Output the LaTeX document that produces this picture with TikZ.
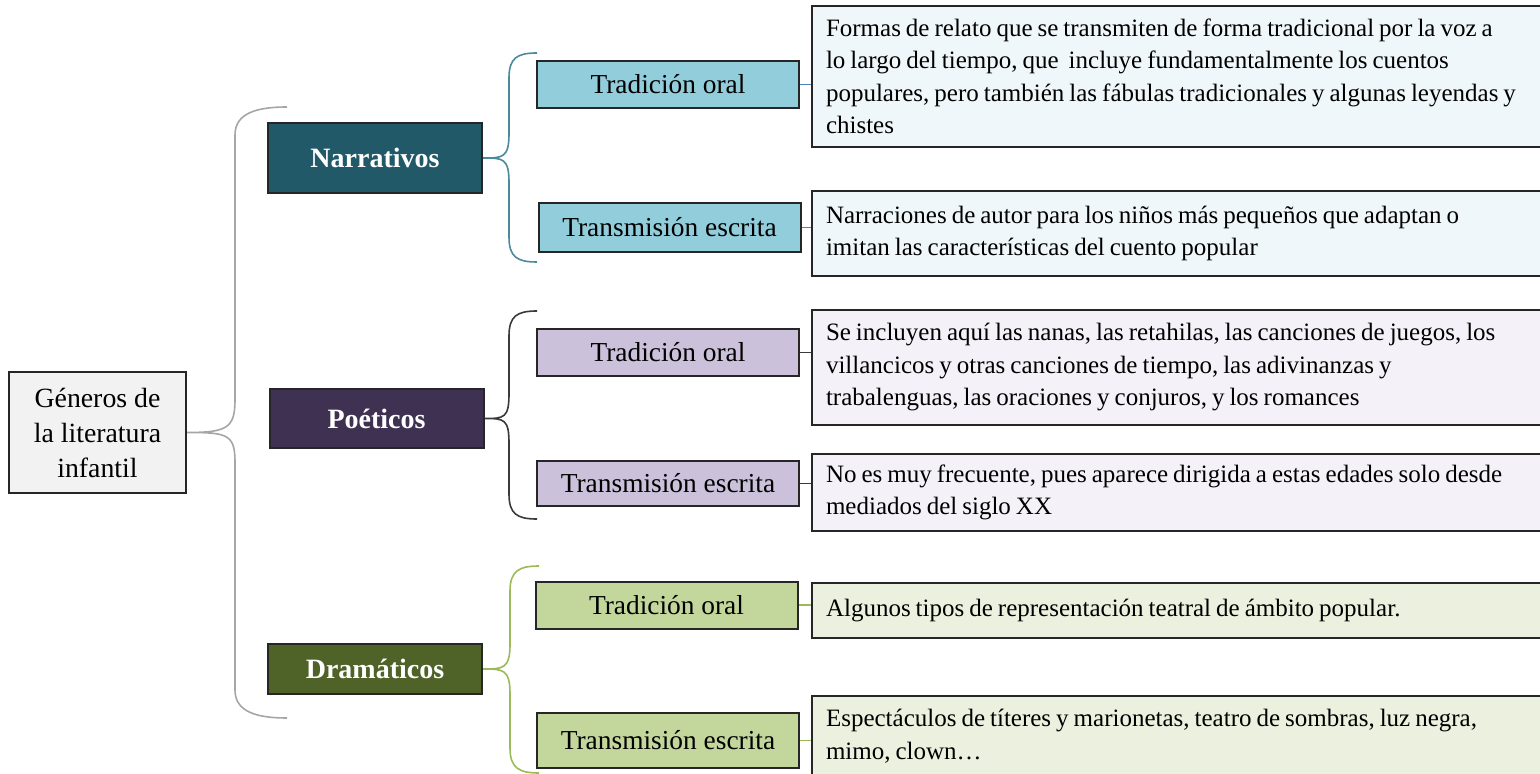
\documentclass[tikz,border=0pt]{standalone}
\usepackage{fontspec}
\setmainfont{Liberation Serif}

\definecolor{boxline}{HTML}{262626}
\definecolor{rootfill}{HTML}{F2F2F2}
\definecolor{mainline}{HTML}{A6A6A6}
\definecolor{narrdark}{HTML}{215968}
\definecolor{narrmid}{HTML}{92CDDC}
\definecolor{narrlight}{HTML}{F0F7FA}
\definecolor{narrline}{HTML}{4A8A9B}
\definecolor{narrlink}{HTML}{4F81BD}
\definecolor{poedark}{HTML}{3F3151}
\definecolor{poemid}{HTML}{CCC1DA}
\definecolor{poelight}{HTML}{F4F1F8}
\definecolor{poeline}{HTML}{3A3A3A}
\definecolor{dradark}{HTML}{4F6228}
\definecolor{dramid}{HTML}{C3D69B}
\definecolor{dralight}{HTML}{EBF1DE}
\definecolor{draline}{HTML}{9BBB59}

\tikzset{
	rootbox/.style = {draw=boxline, line width=1pt, fill=rootfill, align=center, minimum width=88.5pt, minimum height=60.5pt, font=\fontsize{13.9}{17.5}\selectfont},
	catbox/.style = {draw=boxline, line width=1pt, text=white, minimum width=107pt, font=\fontsize{14}{16}\selectfont\bfseries},
	subbox/.style = {draw=boxline, line width=1pt, minimum width=131pt, minimum height=23.5pt, font=\fontsize{13.7}{16}\selectfont},
	txtbox/.style = {draw=boxline, line width=1pt, anchor=west, align=left, text width=360pt, inner xsep=7pt, font=\fontsize{12.5}{16.25}\selectfont, execute at begin node={\spaceskip 0.2em\relax}},
	brace/.style = {line width=0.8pt},
}

\begin{document}
\begin{tikzpicture}[x=0.5pt, y=-0.5pt]
	\useasboundingbox (0,0) rectangle (1540,774);

	% root
	\node[rootbox] (root) at (97.5,432.5) {Géneros de\\la literatura\\infantil};

	% genres
	\node[catbox, fill=narrdark, minimum height=35pt] (narr) at (375,158) {Narrativos};
	\node[catbox, fill=poedark, minimum height=29.5pt] (poe) at (376.5,418.5) {Poéticos};
	\node[catbox, fill=dradark, minimum height=25pt] (dra) at (375,669) {Dramáticos};

	% transmission
	\node[subbox, fill=narrmid] (ntrad) at (668,84.5) {Tradición oral};
	\node[subbox, fill=narrmid, minimum height=24.5pt] (ntrans) at (669.5,227.5) {Transmisión escrita};
	\node[subbox, fill=poemid] (ptrad) at (668,352.5) {Tradición oral};
	\node[subbox, fill=poemid, minimum height=22.5pt] (ptrans) at (668,483.5) {Transmisión escrita};
	\node[subbox, fill=dramid] (dtrad) at (666.5,605) {Tradición oral};
	\node[subbox, fill=dramid, minimum height=27.5pt] (dtrans) at (668,740.5) {Transmisión escrita};

	% descriptions
	\node[txtbox, fill=narrlight, minimum height=70.5pt] (ntxt) at (811,76.5) {Formas de relato que se transmiten de forma tradicional por la voz a\\lo largo del tiempo, que~ incluye fundamentalmente los cuentos\\populares, pero también las fábulas tradicionales y algunas leyendas y\\chistes};
	\node[txtbox, fill=narrlight, minimum height=42.5pt] (nwtxt) at (811,233.5) {Narraciones de autor para los niños más pequeños que adaptan o\\imitan las características del cuento popular};
	\node[txtbox, fill=poelight, minimum height=57.5pt] (ptxt) at (811,367.5) {Se incluyen aquí las nanas, las retahilas, las canciones de juegos, los\\villancicos y otras canciones de tiempo, las adivinanzas y\\trabalenguas, las oraciones y conjuros, y los romances};
	\node[txtbox, fill=poelight, minimum height=38.5pt] (pwtxt) at (811,492.5) {No es muy frecuente, pues aparece dirigida a estas edades solo desde\\mediados del siglo XX};
	\node[txtbox, fill=dralight, minimum height=27.5pt] (dtxt) at (811,610.5) {Algunos tipos de representación teatral de ámbito popular.};
	\node[txtbox, fill=dralight, minimum height=40pt, anchor=north west] (dwtxt) at (811,695) {Espectáculos de títeres y marionetas, teatro de sombras, luz negra,\\mimo, clown…};

	% brace ends
	\coordinate (gtop) at (287,107);
	\coordinate (gbot) at (287,718);
	\coordinate (ntop) at (537,53);
	\coordinate (nbot) at (537,262);
	\coordinate (ptop) at (537,311);
	\coordinate (pbot) at (537,519);
	\coordinate (dtop) at (539,566);
	\coordinate (dbot) at (539,773);

	% braces
	\draw[brace, mainline] (root.east) .. controls +(40,0) and +(0,28) .. (235,400) -- (235,135) .. controls +(0,-22) and +(-30,0) .. (gtop)
		(root.east) .. controls +(40,0) and +(0,-28) .. (235,462) -- (235,690) .. controls +(0,22) and +(-30,0) .. (gbot);
	\draw[brace, narrline] (narr.east) .. controls +(20,0) and +(0,25) .. (509,133) -- (509,78) .. controls +(0,-20) and +(-20,0) .. (ntop)
		(narr.east) .. controls +(20,0) and +(0,-25) .. (509,183) -- (509,237) .. controls +(0,20) and +(-20,0) .. (nbot);
	\draw[brace, poeline] (poe.east) .. controls +(20,0) and +(0,25) .. (509,393) -- (509,336) .. controls +(0,-20) and +(-20,0) .. (ptop)
		(poe.east) .. controls +(20,0) and +(0,-25) .. (509,444) -- (509,494) .. controls +(0,20) and +(-20,0) .. (pbot);
	\draw[brace, draline] (dra.east) .. controls +(20,0) and +(0,25) .. (510,644) -- (510,591) .. controls +(0,-20) and +(-20,0) .. (dtop)
		(dra.east) .. controls +(20,0) and +(0,-25) .. (510,694) -- (510,748) .. controls +(0,20) and +(-20,0) .. (dbot);

	% links
	\draw[narrlink, line width=0.6pt] (ntrad.east) -- (ntrad.east -| ntxt.west);
	\draw[narrlink, line width=0.6pt] (ntrans.east) -- (ntrans.east -| nwtxt.west);
	\draw[poeline, line width=0.6pt] (ptrad.east) -- (ptrad.east -| ptxt.west);
	\draw[poeline, line width=0.6pt] (ptrans.east) -- (ptrans.east -| pwtxt.west);
	\draw[draline, line width=0.6pt] (dtrad.east) -- (dtrad.east -| dtxt.west);
	\draw[draline, line width=0.6pt] (dtrans.east) -- (dtrans.east -| dwtxt.west);

\end{tikzpicture}
\end{document}
